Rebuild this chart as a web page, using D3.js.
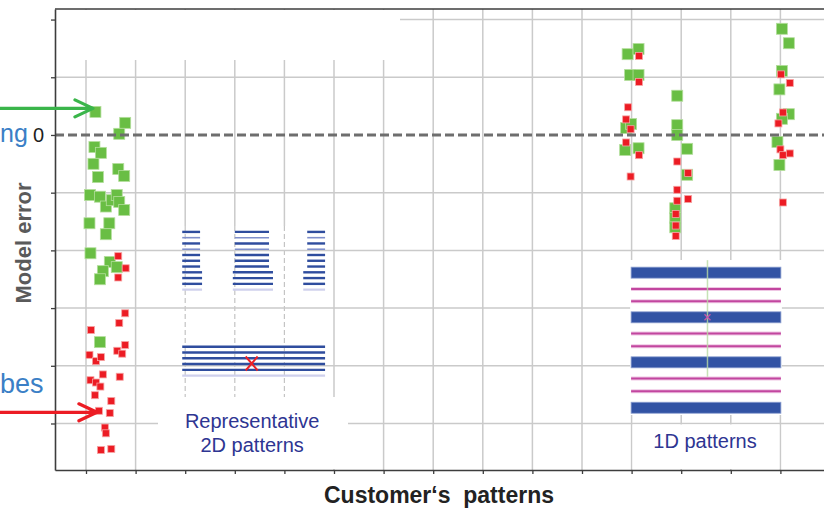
<!DOCTYPE html>
<html>
<head>
<meta charset="utf-8">
<script src="https://cdn.jsdelivr.net/npm/d3@7"></script>
<style>
  body { margin: 0; background: #fff; }
  svg { display: block; }
  text { font-family: "Liberation Sans", Arial, sans-serif; }
</style>
</head>
<body>
<svg id="chart" width="824" height="508"></svg>
<script>
// ---- data -------------------------------------------------------------
// customer pattern slots along the x axis
const patternTicks = d3.range(0, 15);
// model error ticks (only zero is labelled)
const errorTicks = [2, 1, 0, -1, -2, -3, -4, -5];
const errorTickLabels = [{ value: 0, label: "0" }];

// model error of the first approach: [pattern position, error]
const greenSeries = [
  [0.19, 0.40], [0.79, 0.21], [0.67, 0.02], [0.17, -0.21], [0.30, -0.31],
  [0.15, -0.50], [0.24, -0.73], [0.65, -0.59], [0.77, -0.71], [0.08, -1.04],
  [0.28, -1.07], [0.40, -1.24], [0.52, -1.13], [0.62, -1.04], [0.67, -1.16],
  [0.77, -1.30], [0.07, -1.53], [0.47, -1.53], [0.40, -1.72], [0.09, -2.05],
  [0.48, -2.20], [0.62, -2.29], [0.34, -2.36], [0.28, -2.50], [0.28, -3.59],
  [10.92, 1.40], [11.14, 1.49], [10.97, 1.04], [11.14, 1.04], [10.89, 0.12],
  [10.99, 0.19], [10.87, -0.26], [11.14, -0.23],
  [11.92, 0.68], [11.92, 0.17], [11.92, 0.00], [12.12, -0.24], [12.12, -0.69],
  [11.88, -1.27], [11.88, -1.44], [11.88, -1.60],
  [14.03, 1.84], [14.17, 1.59], [14.03, 1.11], [13.98, 0.79], [14.17, 0.36],
  [14.03, 0.28], [13.94, -0.12], [13.98, -0.52]
];

// model error of the second approach: [pattern position, error]
const redSeries = [
  [0.65, -2.10], [0.80, -2.31], [0.65, -2.47], [0.79, -3.09], [0.67, -3.26],
  [0.10, -3.38], [0.79, -3.64], [0.63, -3.74], [0.73, -3.79], [0.07, -3.81],
  [0.20, -3.92], [0.30, -3.85], [0.34, -4.15], [0.68, -4.19], [0.09, -4.25],
  [0.20, -4.29], [0.29, -4.36], [0.18, -4.51], [0.51, -4.61], [0.26, -4.78],
  [0.48, -4.82], [0.38, -5.07], [0.40, -5.17], [0.30, -5.46], [0.51, -5.44],
  [11.15, 1.37], [11.15, 0.92], [10.93, 0.48], [10.89, 0.27], [10.98, 0.10],
  [10.89, -0.13], [11.15, -0.35], [10.98, -0.72],
  [11.92, -0.46], [12.14, -0.66], [11.92, -0.95], [11.92, -1.14], [12.14, -1.11],
  [11.89, -1.37], [11.89, -1.57], [11.89, -1.75],
  [14.01, 1.05], [14.19, 0.90], [14.05, 0.39], [13.96, 0.20], [14.00, -0.25],
  [14.05, -0.35], [14.19, -0.32], [14.05, -1.17]
];

// sketch of the representative 2D patterns (positions in axis units)
const grid2DRows = d3.range(0, 11).map(i => -1.68 - 0.1 * i);
const grid2DRowTone = ["d", "l", "d", "l", "d", "d", "d", "d", "d", "d", "f"];
const grid2DBlocks = [
  { x0: 1.94, x1: 2.30, x0w: 1.94, x1w: 2.34 },
  { x0: 3.00, x1: 3.69, x0w: 2.96, x1w: 3.77 },
  { x0: 4.46, x1: 4.82, x0w: 4.38, x1w: 4.82 }
];
const line2DRows = d3.range(0, 6).map(i => -3.67 - 0.1 * i);
const line2DRowTone = ["d", "d", "d", "d", "d", "f"];
const line2DSpan = [1.94, 4.82];
const line2DMarker = [3.34, -3.96];

// sketch of the 1D patterns
const bars1D = [-2.386, -3.16, -3.94, -4.727];
const thin1D = [-2.67, -2.88, -3.44, -3.66, -4.22, -4.44];
const span1D = [10.99, 14.01];
const cut1D = { x: 12.53, y0: -2.17, y1: -4.19 };

// arrow targets
const arrowGreen = [0.14, 0.46];
const arrowRed = [0.22, -4.806];

// ---- scales -----------------------------------------------------------
const svg = d3.select("#chart");
const W = 824, H = 508;
const x = d3.scaleLinear().domain([-0.625, 15]).range([55, 830]);
const y = d3.scaleLinear().domain([-5.806, 2.183]).range([470, 9]);
const plotLeft = x(-0.625), plotTop = y(2.183), plotBottom = y(-5.806);

svg.append("rect").attr("width", W).attr("height", H).attr("fill", "#fff");

// ---- grid ---------------------------------------------------------------
const grid = svg.append("g").attr("stroke", "#cacaca").attr("stroke-width", 1.5);
const dashTop = 226, dashBottom = 397;
patternTicks.forEach(t => {
  if (t >= 2 && t <= 4) {
    grid.append("line").attr("x1", x(t)).attr("x2", x(t)).attr("y1", plotTop).attr("y2", dashTop);
    grid.append("line").attr("x1", x(t)).attr("x2", x(t)).attr("y1", dashTop).attr("y2", dashBottom)
      .attr("stroke", "#c4c4c4").attr("stroke-width", 1.2).attr("stroke-dasharray", "5,3");
  } else {
    grid.append("line").attr("x1", x(t)).attr("x2", x(t)).attr("y1", plotTop).attr("y2", plotBottom);
  }
});
errorTicks.filter(v => v !== 0).forEach(v => {
  grid.append("line").attr("x1", plotLeft).attr("x2", W).attr("y1", y(v)).attr("y2", y(v));
});

// blank panels over the grid
const blank = svg.append("g").attr("fill", "#fff");
blank.append("rect").attr("x", plotLeft + 1).attr("y", plotTop + 1).attr("width", 400 - plotLeft - 1).attr("height", 50);
blank.append("rect").attr("x", 158).attr("y", dashBottom).attr("width", 190).attr("height", plotBottom - dashBottom - 1);
blank.append("rect").attr("x", x(span1D[0]) - 1).attr("y", 260).attr("width", x(span1D[1]) - x(span1D[0]) + 2).attr("height", 155);
blank.append("rect").attr("x", x(11) + 1).attr("y", y(-5) + 1).attr("width", x(14) - x(11) - 2).attr("height", plotBottom - y(-5) - 2);

// ---- 2D pattern sketch --------------------------------------------------
const tone = { d: ["#2f4d9e", 2.4], l: ["#7f8fcb", 1.6], f: ["#cfd0ec", 2.2] };
const p2 = svg.append("g");
grid2DBlocks.forEach(b => {
  grid2DRows.forEach((r, i) => {
    const wide = i >= 7;
    const [c, w] = tone[grid2DRowTone[i]];
    p2.append("line")
      .attr("x1", x(wide ? b.x0w : b.x0)).attr("x2", x(wide ? b.x1w : b.x1))
      .attr("y1", y(r)).attr("y2", y(r))
      .attr("stroke", c).attr("stroke-width", w);
  });
});
line2DRows.forEach((r, i) => {
  const [c, w] = tone[line2DRowTone[i]];
  p2.append("line")
    .attr("x1", x(line2DSpan[0])).attr("x2", x(line2DSpan[1]))
    .attr("y1", y(r)).attr("y2", y(r))
    .attr("stroke", c).attr("stroke-width", w);
});
{
  const cx = x(line2DMarker[0]), cy = y(line2DMarker[1]);
  p2.append("path")
    .attr("d", `M${cx - 6},${cy - 7}L${cx + 6},${cy + 7}M${cx + 6},${cy - 7}L${cx - 6},${cy + 7}`)
    .attr("stroke", "#ec2027").attr("stroke-width", 2).attr("fill", "none");
}

// ---- 1D pattern sketch --------------------------------------------------
const p1 = svg.append("g");
thin1D.forEach(r => {
  p1.append("line").attr("x1", x(span1D[0])).attr("x2", x(span1D[1]))
    .attr("y1", y(r)).attr("y2", y(r)).attr("stroke", "#efc6e4").attr("stroke-width", 4);
  p1.append("line").attr("x1", x(span1D[0])).attr("x2", x(span1D[1]))
    .attr("y1", y(r)).attr("y2", y(r)).attr("stroke", "#c2469f").attr("stroke-width", 2);
});
bars1D.forEach(r => {
  p1.append("rect").attr("x", x(span1D[0])).attr("width", x(span1D[1]) - x(span1D[0]))
    .attr("y", y(r) - 5.5).attr("height", 11)
    .attr("fill", "#3253a4").attr("stroke", "#8c9fd0").attr("stroke-width", 0.8);
});
p1.append("line").attr("x1", x(cut1D.x)).attr("x2", x(cut1D.x))
  .attr("y1", y(cut1D.y0)).attr("y2", y(cut1D.y1))
  .attr("stroke", "#b8dca4").attr("stroke-width", 1.5).attr("opacity", 0.8);
{
  const cx = x(cut1D.x), cy = y(bars1D[1]);
  p1.append("path")
    .attr("d", `M${cx - 3},${cy - 3}L${cx + 3},${cy + 3}M${cx + 3},${cy - 3}L${cx - 3},${cy + 3}`)
    .attr("stroke", "#c45aa8").attr("stroke-width", 1.3);
}

// ---- data points -------------------------------------------------------
const gs = 11, rs = 7;
svg.append("g").selectAll("rect").data(greenSeries).join("rect")
  .attr("x", d => x(d[0]) - gs / 2).attr("y", d => y(d[1]) - gs / 2)
  .attr("width", gs).attr("height", gs)
  .attr("fill", "#69be44").attr("stroke", "#b3de9c").attr("stroke-width", 0.8);
svg.append("g").selectAll("rect").data(redSeries).join("rect")
  .attr("x", d => x(d[0]) - rs / 2).attr("y", d => y(d[1]) - rs / 2)
  .attr("width", rs).attr("height", rs)
  .attr("fill", "#ec1c24").attr("stroke", "#f6a3a3").attr("stroke-width", 0.8);

// zero-error reference line
svg.append("line").attr("x1", plotLeft).attr("x2", W).attr("y1", y(0)).attr("y2", y(0))
  .attr("stroke", "#6e6e6e").attr("stroke-width", 3).attr("stroke-dasharray", "9,4");

// ---- axes -----------------------------------------------------------------
const axisColor = "#3d3d3d";
const yAxis = svg.append("g").attr("transform", `translate(${plotLeft},0)`)
  .call(d3.axisLeft(y).tickValues(errorTicks).tickSize(4).tickSizeOuter(0).tickFormat(""));
const xAxis = svg.append("g").attr("transform", `translate(0,${plotBottom})`)
  .call(d3.axisBottom(x).tickValues(patternTicks).tickSize(4).tickSizeOuter(0).tickFormat(""));
[yAxis, xAxis].forEach(a => {
  a.select(".domain").attr("stroke", axisColor).attr("stroke-width", 1.6);
  a.selectAll(".tick line").attr("stroke", axisColor).attr("stroke-width", 1.3);
});
// the single labelled error tick
svg.append("g").selectAll("text").data(errorTickLabels).join("text")
  .attr("x", plotLeft - 11).attr("y", d => y(d.value) + 7)
  .attr("text-anchor", "end").style("font-size", "20px").attr("fill", "#1e1e1e")
  .text(d => d.label);
svg.append("line").attr("x1", plotLeft).attr("x2", W).attr("y1", plotTop).attr("y2", plotTop)
  .attr("stroke", axisColor).attr("stroke-width", 1.6);

// axis titles
svg.append("text")
  .attr("transform", "translate(31,243) rotate(-90)")
  .attr("text-anchor", "middle").style("font-size", "22px").attr("font-weight", "bold")
  .attr("fill", "#5a5a5a").text("Model error");
svg.append("text")
  .attr("x", 439).attr("y", 503).attr("text-anchor", "middle")
  .style("font-size", "23px").attr("font-weight", "bold").attr("fill", "#222")
  .attr("xml:space", "preserve").text("Customer\u2018s  patterns");

// panel captions
const cap = svg.append("g").attr("fill", "#2e3592").style("font-size", "20px").attr("text-anchor", "middle");
cap.append("text").attr("x", x(3.35)).attr("y", 428).text("Representative");
cap.append("text").attr("x", x(3.35)).attr("y", 452).text("2D patterns");
cap.append("text").attr("x", x(12.48)).attr("y", 448).text("1D patterns");

// ---- annotations -----------------------------------------------------------
svg.append("text").attr("x", 0).attr("y", 142)
  .style("font-size", "25px").attr("fill", "#3b7fc6").text("ng");
svg.append("text").attr("x", 0).attr("y", 393)
  .style("font-size", "27px").attr("fill", "#3b7fc6").text("bes");

function arrow(target, color) {
  const tx = x(target[0]), ty = y(target[1]);
  svg.append("path")
    .attr("d", `M0,${ty}L${tx - 2},${ty}M${tx - 18},${ty - 8.5}L${tx},${ty}L${tx - 18},${ty + 8.5}`)
    .attr("fill", "none").attr("stroke", color).attr("stroke-width", 3.2)
    .attr("stroke-linecap", "round").attr("stroke-linejoin", "round");
}
arrow(arrowGreen, "#3ab54a");
arrow(arrowRed, "#ec1c24");
</script>
</body>
</html>
